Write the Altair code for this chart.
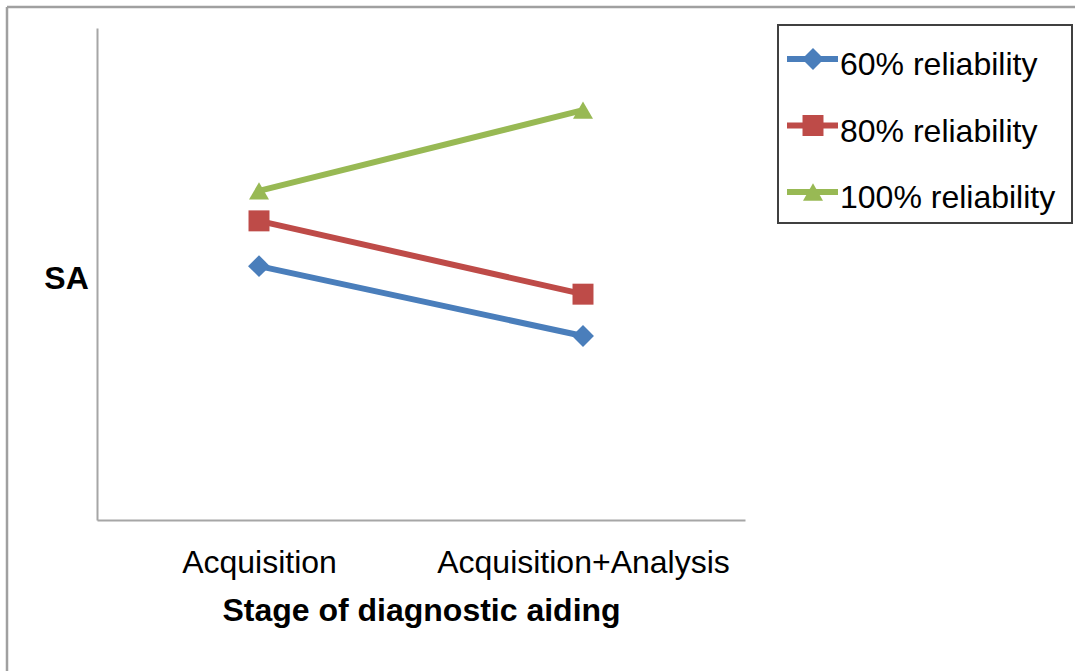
import altair as alt
import pandas as pd

# Stages on the x axis and the three reliability series
stages = ["Acquisition", "Acquisition+Analysis"]
series = ["60% reliability", "80% reliability", "100% reliability"]
sa_60 = [5.16, 3.74]
sa_80 = [6.08, 4.59]
sa_100 = [6.69, 8.33]

colors = ["#4a7ebb", "#be4b48", "#98b954"]
shapes = ["diamond", "square", "triangle-up"]
marker_sizes = [480, 400, 560]

rows = []
for name, vals in zip(series, [sa_60, sa_80, sa_100]):
    for st, v in zip(stages, vals):
        rows.append({"stage": st, "series": name, "sa": v})
df = pd.DataFrame(rows)
legend_df = pd.DataFrame({"series": series})
one_row = alt.Data(values=[{"k": 1}])

W, H = 648, 492
FONT = "Liberation Sans"
LINE_W = 6
FS = 32

color = alt.Color("series:N", scale=alt.Scale(domain=series, range=colors), legend=None)
shape = alt.Shape("series:N", scale=alt.Scale(domain=series, range=shapes), legend=None)
size = alt.Size("series:N", scale=alt.Scale(domain=series, range=marker_sizes), legend=None)

x = alt.X(
    "stage:N",
    sort=stages,
    scale=alt.Scale(type="point", domain=stages, padding=0.5),
    axis=alt.Axis(
        title="Stage of diagnostic aiding",
        labelAngle=0,
        labelLimit=0,
        labelFont=FONT,
        labelFontSize=FS,
        labelColor="black",
        labelPadding=52,
        labelBaseline="alphabetic",
        titleFont=FONT,
        titleFontSize=FS,
        titleFontWeight="bold",
        titleColor="black",
        titleY=100,
        titleBaseline="alphabetic",
    ),
)
y = alt.Y(
    "sa:Q",
    scale=alt.Scale(domain=[0, 10], nice=False, zero=True),
    axis=alt.Axis(
        title="SA",
        labels=False,
        titleAngle=0,
        titleX=-31,
        titleY=260,
        titleAlign="center",
        titleBaseline="alphabetic",
        titleFont=FONT,
        titleFontSize=FS,
        titleFontWeight="bold",
        titleColor="black",
    ),
)

lines = alt.Chart(df).mark_line(strokeWidth=LINE_W).encode(x=x, y=y, color=color, detail="series:N")
points = alt.Chart(df).mark_point(filled=True, opacity=1).encode(
    x=x, y=y, color=color, shape=shape, size=size
)
plot = alt.layer(lines, points)

# Legend drawn as its own layer with a point scale for the rows
ly = alt.Y(
    "series:N",
    sort=series,
    scale=alt.Scale(type="point", domain=series, range=[31, 164], padding=0),
    axis=None,
)
legend_box = alt.Chart(one_row).mark_rect(fill="white", stroke="#404040", strokeWidth=2).encode(
    x=alt.value(681), x2=alt.value(975), y=alt.value(-3), y2=alt.value(195)
)
legend_lines = alt.Chart(legend_df).mark_rule(strokeWidth=LINE_W).encode(
    x=alt.value(690), x2=alt.value(741), y=ly, color=color
)
legend_marks = alt.Chart(legend_df).mark_point(filled=True, opacity=1).encode(
    x=alt.value(716), y=ly, color=color, shape=shape, size=size
)
legend_text = alt.Chart(legend_df).mark_text(
    align="left", baseline="middle", font=FONT, fontSize=FS, color="black", dy=6
).encode(x=alt.value(743), y=ly, text="series:N")
legend = alt.layer(legend_box, legend_lines, legend_marks, legend_text)

# Outer frame (top and left edges)
frame_top = alt.Chart(one_row).mark_rule(color="#a0a0a0", strokeWidth=2.5).encode(
    x=alt.value(-90), x2=alt.value(990), y=alt.value(-21)
)
frame_left = alt.Chart(one_row).mark_rule(color="#a0a0a0", strokeWidth=2.5).encode(
    x=alt.value(-90), y=alt.value(-21), y2=alt.value(650)
)
frame = alt.layer(frame_top, frame_left)

chart = (
    alt.layer(frame, plot, legend)
    .resolve_scale(y="independent")
    .properties(
        width=W,
        height=H,
        autosize=alt.AutoSizeParams(type="none"),
        padding={"left": 97, "top": 28, "right": 330, "bottom": 151},
        background="white",
    )
    .configure_view(stroke=None)
    .configure_axis(
        grid=False,
        ticks=False,
        domainColor="#a6a6a6",
        domainWidth=2,
    )
)

chart.save("out.html", embed_options={"renderer": "svg", "actions": False})
